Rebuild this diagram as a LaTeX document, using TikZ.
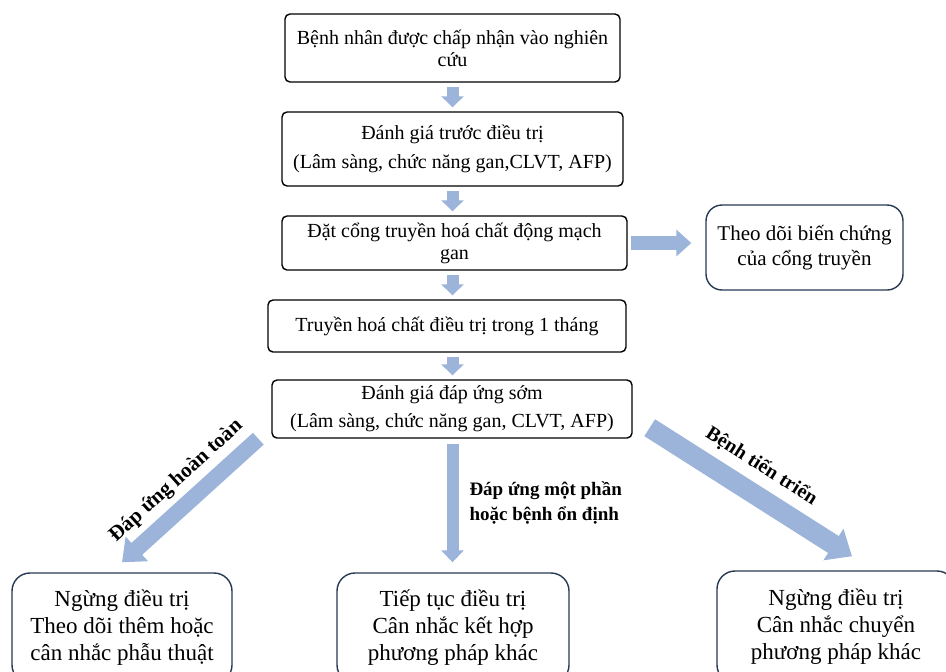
\documentclass[tikz,border=0pt]{standalone}
\usepackage{fontspec}
\setmainfont{Liberation Serif}
\usetikzlibrary{arrows.meta}
\definecolor{arrowblue}{RGB}{157,180,218}
\definecolor{edgeblue}{RGB}{38,56,84}

\begin{document}
\begin{tikzpicture}[x=0.5pt,y=0.5pt]
\tikzstyle{every node}+=[inner sep=0pt]
\tikzstyle{stage}=[draw=black, line width=0.7pt, rounded corners=2.5pt, align=center, font=\fontsize{10}{11}\selectfont]
\tikzstyle{outcome}=[draw=edgeblue, line width=0.7pt, rounded corners=9pt, align=center, font=\fontsize{11.5}{13.5}\selectfont]
\tikzstyle{flow}=[arrowblue, line width=6pt, -{Triangle[width=11pt,length=5.5pt]}, shorten <=2pt, shorten >=2pt]
\tikzstyle{branch}=[black, font=\bfseries\fontsize{9.5}{12.5}\selectfont]
\useasboundingbox (0,0) rectangle (946,-671);
\clip (0,0) rectangle (946,-671);
\node [stage, minimum width=167.5pt, minimum height=34pt] (admit) at (452.5,-48) {Bệnh nhân được chấp nhận vào nghiên\\cứu};
\node [stage, minimum width=170.5pt, minimum height=37pt] (pre) at (452.5,-149) {Đánh giá trước điều trị\\[3.5pt](Lâm sàng, chức năng gan,CLVT, AFP)};
\node [stage, minimum width=172.5pt, minimum height=27pt] (port) at (454.5,-243) {Đặt cổng truyền hoá chất động mạch\\gan};
\node [outcome, rounded corners=8pt, font=\fontsize{10.5}{12.5}\selectfont, minimum width=98.5pt, minimum height=42.5pt] (watch) at (804.5,-247.5) {Theo dõi biến chứng\\của cổng truyền};
\node [stage, minimum width=179pt, minimum height=26pt] (infuse) at (447,-326) {Truyền hoá chất điều trị trong 1 tháng};
\node [stage, minimum width=180pt, minimum height=29pt] (early) at (452,-409) {Đánh giá đáp ứng sớm\\[3pt](Lâm sàng, chức năng gan, CLVT, AFP)};
\node [outcome, minimum width=110pt, minimum height=55pt] (stopA) at (122,-628) {Ngừng điều trị\\Theo dõi thêm hoặc\\cân nhắc phẫu thuật};
\node [outcome, minimum width=116pt, minimum height=55pt] (cont) at (453,-628) {Tiếp tục điều trị\\Cân nhắc kết hợp\\phương pháp khác};
\node [outcome, minimum width=119pt, minimum height=56pt] (stopB) at (836,-627) {Ngừng điều trị\\Cân nhắc chuyển\\phương pháp khác};
% main column
\draw [flow] (admit.south) -- (pre.north);
\draw [flow] (pre.south) -- (pre.south |- port.north);
\draw [flow] (pre.south |- port.south) -- (pre.south |- infuse.north);
\draw [flow] (pre.south |- infuse.south) -- (pre.south |- early.north);
\draw [flow, line width=7pt, -{Triangle[width=13pt,length=7.5pt]}, shorten <=1.5pt, shorten >=7pt] (port.east) -- (port.east -| watch.west);
% three outcomes
\draw [flow, -{Triangle[width=11pt,length=6pt]}, shorten <=2.5pt, shorten >=5pt] (pre.south |- early.south) -- (pre.south |- cont.north) node [branch, midway, right=5.5pt, yshift=1.5pt, align=left] {Đáp ứng một phần\\hoặc bệnh ổn định};
\draw [flow, line width=8pt, -{Triangle[width=16pt,length=10pt]}, shorten <=0pt, shorten >=0pt] ([xshift=-6.5pt]early.south west) -- ([yshift=5pt]stopA.north) node [branch, font=\bfseries\fontsize{10.5}{12.5}\selectfont, pos=0.485, sloped, above=3pt] {Đáp ứng hoàn toàn};
\draw [flow, line width=10pt, -{Triangle[width=18pt,length=11pt]}, shorten <=0pt, shorten >=0pt] ([shift={(8.5pt,5.5pt)}]early.south east) -- ([shift={(8pt,7pt)}]stopB.north) node [branch, font=\bfseries\fontsize{10}{12.5}\selectfont, pos=0.48, sloped, above=4pt] {Bệnh tiến triển};
\end{tikzpicture}
\end{document}
